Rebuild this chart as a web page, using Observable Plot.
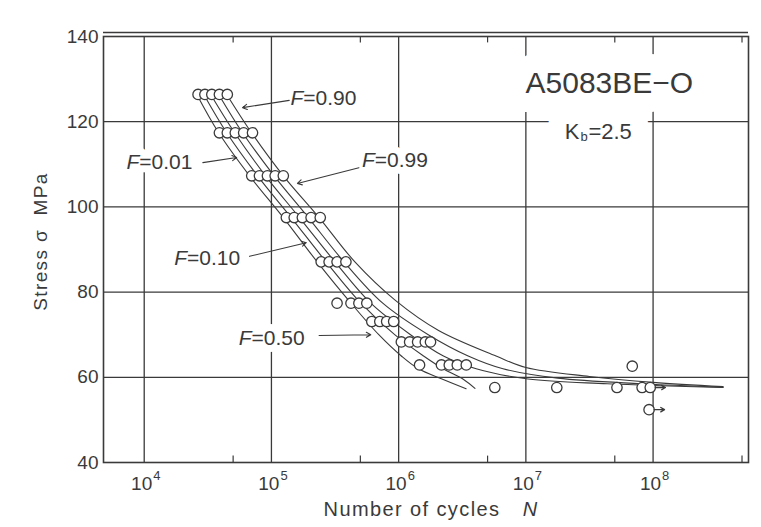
<!DOCTYPE html>
<html><head><meta charset="utf-8">
<script src="https://cdn.jsdelivr.net/npm/d3@7"></script>
<script src="https://cdn.jsdelivr.net/npm/@observablehq/plot@0.6"></script>
<style>
body{margin:0;background:#fff;}
#chart svg{display:block;}
</style></head><body><div id="chart"></div>
<script>
// axis ticks
const stressTicks = [40, 60, 80, 100, 120, 140];
const stressGrid = [60, 80, 100, 120];
const decadeTicks = [1e4, 1e5, 1e6, 1e7, 1e8];
const decadeBase = ["10", "10", "10", "10", "10"];
const decadeExponents = ["4", "5", "6", "7", "8"];
const minorTicks = [5e4, 5e5, 5e6, 5e7, 5e8];

// test points (N cycles, stress MPa)
const ptN = [26500, 30000, 34000, 39000, 45000,
  39000, 45000, 52000, 60500, 71000,
  70000, 80500, 93000, 107000, 124000,
  131000, 151000, 175000, 205000, 242000,
  246000, 284000, 328000, 385000,
  328000, 422000, 487000, 562000,
  615000, 711000, 805000, 914000,
  1.05e6, 1.22e6, 1.41e6, 1.62e6, 1.78e6,
  1.46e6, 2.17e6, 2.5e6, 2.89e6, 3.4e6,
  5.7e6, 1.75e7, 5.2e7, 8.2e7, 9.5e7,
  6.86e7, 9.3e7];
const ptS = [126.4, 126.4, 126.4, 126.4, 126.4,
  117.4, 117.4, 117.4, 117.4, 117.4,
  107.3, 107.3, 107.3, 107.3, 107.3,
  97.5, 97.5, 97.5, 97.5, 97.5,
  87.1, 87.1, 87.1, 87.1,
  77.4, 77.4, 77.4, 77.4,
  73.1, 73.1, 73.1, 73.1,
  68.3, 68.3, 68.3, 68.3, 68.3,
  62.9, 62.9, 62.9, 62.9, 62.9,
  57.6, 57.6, 57.6, 57.6, 57.6,
  62.6, 52.4];
// run-outs (unbroken specimens)
const runN = [9.5e7, 9.3e7];
const runS = [57.6, 52.4];
const runEndN = [1.25e8, 1.23e8];

// P-S-N curves
const curveF01N = [25900, 38500, 67300, 124000, 229000, 422000, 698000, 1.05e6, 1.43e6, 2.24e6, 3.39e6];
const curveF01S = [126.4, 117.4, 107.3, 97.5, 87.1, 77.4, 70.0, 65.0, 62.0, 59.5, 57.3];
const curveF10N = [29400, 44500, 77800, 143000, 269000, 505000, 931000, 1.57e6, 2.24e6, 3.24e6, 3.98e6];
const curveF10S = [126.4, 117.4, 107.3, 97.5, 87.1, 77.4, 70.0, 65.0, 62.0, 59.5, 57.4];
const curveF50N = [33300, 51400, 89800, 166000, 316000, 604000, 1.24e6, 2.25e6, 4.07e6, 1.04e7, 4.37e7, 3.55e8];
const curveF50S = [126.4, 117.4, 107.3, 97.5, 87.1, 77.4, 70.0, 65.0, 62.0, 59.6, 58.5, 57.6];
const curveF90N = [38500, 59300, 105000, 195000, 372000, 750000, 1.71e6, 3.52e6, 6.61e6, 1.78e7, 7.94e7, 3.55e8];
const curveF90S = [126.4, 117.4, 107.3, 97.5, 87.1, 77.4, 70.0, 65.0, 62.0, 59.8, 58.5, 57.7];
const curveF99N = [44500, 69800, 124000, 237000, 453000, 948000, 2.06e6, 5.83e6, 1e7, 3.16e7, 1e8, 3.55e8];
const curveF99S = [126.4, 117.4, 107.3, 97.5, 87.1, 78.0, 71.0, 65.0, 62.3, 60.2, 58.8, 57.8];

// curve labels
const labelText = ["=0.90", "=0.01", "=0.99", "=0.10", "=0.50"];
const labelN = [1.78e5, 9.14e3, 6.49e5, 2.17e4, 6.98e4];
const labelS = [125.4, 110.4, 110.9, 87.9, 69.1];
const leaderN1 = [1.38e5, 2.89e4, 4.87e5, 6.73e4, 2.37e5];
const leaderS1 = [125.0, 110.4, 109.2, 88.4, 69.8];
const leaderN2 = [5.93e4, 5.33e4, 1.6e5, 1.88e5, 6.04e5];
const leaderS2 = [123.3, 111.6, 105.5, 91.6, 70.0];

// annotation
const materialText = ["A5083BE−O"];
const materialN = [4.53e7];
const materialS = [129.0];
const kbN = [3.1e7];
const kbS = [117.7];

const ink = "#3a3a3a";
const font = "Liberation Sans, Arial, Helvetica, sans-serif";

const points = ptN.map((n, i) => ({N: n, S: ptS[i]}));
const runs = runN.map((n, i) => ({N: n, S: runS[i], N2: runEndN[i]}));
const curves = [];
[[curveF01N, curveF01S, "0.01"], [curveF10N, curveF10S, "0.10"], [curveF50N, curveF50S, "0.50"],
 [curveF90N, curveF90S, "0.90"], [curveF99N, curveF99S, "0.99"]].forEach(([ns, ss, f]) =>
  ns.forEach((n, i) => curves.push({N: n, S: ss[i], F: f})));
const labels = labelText.map((t, i) => ({t, N: labelN[i], S: labelS[i],
  N1: leaderN1[i], S1: leaderS1[i], N2: leaderN2[i], S2: leaderS2[i]}));
const material = materialText.map((t, i) => ({t, N: materialN[i], S: materialS[i]}));
const kb = kbN.map((n, i) => ({N: n, S: kbS[i]}));
const xticks = decadeTicks.map((d, i) => ({N: d, base: decadeBase[i], exp: decadeExponents[i]}));

const halo = {fill: "white", stroke: "white", strokeLinejoin: "round", paintOrder: "stroke"};
const kbK = {x: "N", y: "S", text: () => "K", textAnchor: "end", dx: -9, fontSize: 22};
const kbB = {x: "N", y: "S", text: () => "b", textAnchor: "start", dx: -8, dy: 5, fontSize: 13};
const kbV = {x: "N", y: "S", text: () => "=2.5", textAnchor: "start", dx: 0, fontSize: 22};

const chart = Plot.plot({
  width: 761, height: 527,
  marginLeft: 103, marginRight: 13, marginTop: 36, marginBottom: 65,
  style: {fontFamily: font, fontSize: "19px", color: ink, background: "white"},
  x: {type: "log", domain: [10 ** 3.68, 10 ** 8.75], axis: null},
  y: {domain: [40, 140], ticks: stressTicks, tickSize: 0, tickPadding: 5, label: null},
  marks: [
    Plot.ruleX(decadeTicks, {stroke: ink, strokeWidth: 1.3}),
    Plot.ruleY(stressGrid, {stroke: ink, strokeWidth: 1.3}),
    Plot.ruleY([140], {stroke: ink, strokeWidth: 1.3, dy: -4}),
    Plot.ruleX(minorTicks, {y1: 40, y2: 41.5, stroke: ink, strokeWidth: 1.2}),
    Plot.ruleX(minorTicks, {y1: 140, y2: 138.5, stroke: ink, strokeWidth: 1.2}),
    // white halos cutting the grid behind the annotations
    Plot.text(material, {x: "N", y: "S", text: "t", fontSize: 30, ...halo, strokeWidth: 38}),
    Plot.text(kb, {...kbK, ...halo, strokeWidth: 36}),
    Plot.text(kb, {...kbB, ...halo, strokeWidth: 36}),
    Plot.text(kb, {...kbV, ...halo, strokeWidth: 36}),
    Plot.text(labels, {x: "N", y: "S", text: "t", textAnchor: "start", fontSize: 21, ...halo, strokeWidth: 14}),
    Plot.text(labels, {x: "N", y: "S", text: () => "F", textAnchor: "end", fontSize: 21, fontStyle: "italic", ...halo, strokeWidth: 14}),
    Plot.frame({stroke: ink, strokeWidth: 1.6}),
    // x tick labels (decades with exponents)
    Plot.text(xticks, {x: "N", y: () => 40, text: "base", textAnchor: "end", dx: 8, dy: 21, fontSize: 19, fill: ink}),
    Plot.text(xticks, {x: "N", y: () => 40, text: "exp", textAnchor: "start", dx: 9, dy: 13, fontSize: 13, fill: ink}),
    // curves
    Plot.line(curves, {x: "N", y: "S", z: "F", curve: "catmull-rom", stroke: ink, strokeWidth: 1.1}),
    // data
    Plot.dot(points, {x: "N", y: "S", r: 5.2, stroke: ink, fill: "white", strokeWidth: 1.3}),
    Plot.arrow(runs, {x1: "N", y1: "S", x2: "N2", y2: "S", stroke: ink, strokeWidth: 1.3, headLength: 5, insetStart: 5}),
    // labels
    Plot.text(labels, {x: "N", y: "S", text: "t", textAnchor: "start", fontSize: 21, fill: ink}),
    Plot.text(labels, {x: "N", y: "S", text: () => "F", textAnchor: "end", fontSize: 21, fontStyle: "italic", fill: ink}),
    Plot.arrow(labels, {x1: "N1", y1: "S1", x2: "N2", y2: "S2", stroke: ink, strokeWidth: 1.1, headLength: 7}),
    Plot.text(material, {x: "N", y: "S", text: "t", fontSize: 30, fill: ink}),
    Plot.text(kb, {...kbK, fill: ink}),
    Plot.text(kb, {...kbB, fill: ink}),
    Plot.text(kb, {...kbV, fill: ink}),
    // axis titles
    Plot.text(["Stress σ  MPa"], {frameAnchor: "left", textAnchor: "middle", rotate: -90, dx: -63, dy: -8, fontSize: 19, fill: ink}),
    Plot.text(["Number of cycles"], {frameAnchor: "bottom", textAnchor: "middle", dx: -14, dy: 53, fontSize: 20, fill: ink}),
    Plot.text(["N"], {frameAnchor: "bottom", dx: 104, dy: 53, fontSize: 20, fontStyle: "italic", fill: ink})
  ]
});
document.getElementById("chart").appendChild(chart);
// wider letter spacing, as in the scanned original
d3.select(chart).selectAll("text").filter(function() {
  return this.textContent === "Stress σ  MPa" || this.textContent === "Number of cycles";
}).style("letter-spacing", "1.4px");
</script></body></html>
